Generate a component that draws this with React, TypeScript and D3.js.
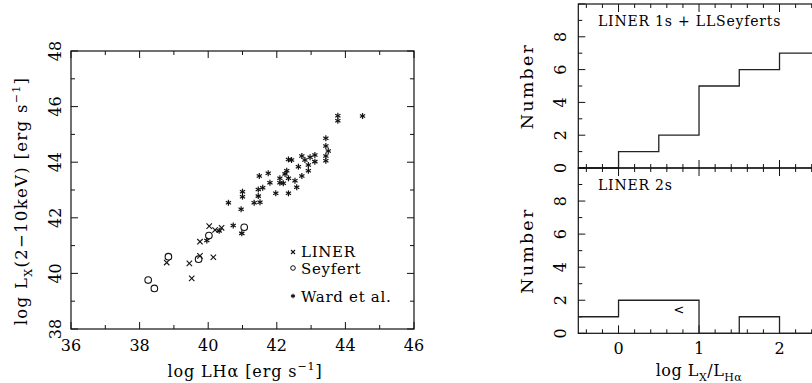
import React from "react";
import * as d3 from "d3";

const linerX = [38.79, 39.45, 39.52, 39.76, 40.15, 39.76, 40.03, 40.2, 40.39];
const linerY = [40.39, 40.36, 39.82, 40.63, 40.58, 41.14, 41.7, 41.56, 41.64];

const seyfertX = [38.25, 38.43, 38.84, 39.72, 40.02, 41.05];
const seyfertY = [39.76, 39.46, 40.6, 40.51, 41.36, 41.66];

const wardX = [43.78, 43.78, 44.5, 43.43, 43.43, 43.5, 43.43, 43.43, 43.11, 42.97, 43.11, 42.92, 42.73, 42.82, 42.63, 42.92, 42.73, 42.58, 42.53, 42.34, 42.43, 42.29, 42.24, 42.34, 42.19, 42.09, 42.09, 42.34, 41.97, 41.8, 41.75, 41.49, 41.59, 41.46, 41.46, 41.51, 41.34, 41.0, 41.0, 40.96, 40.59, 40.73, 40.32, 39.96, 40.98];
const wardY = [45.67, 45.49, 45.66, 44.86, 44.58, 44.4, 44.22, 44.05, 44.26, 44.18, 44.02, 43.9, 44.22, 44.08, 43.84, 43.69, 43.5, 43.1, 43.33, 44.1, 44.08, 43.69, 43.58, 43.42, 43.24, 43.42, 43.26, 42.88, 42.88, 43.26, 43.6, 43.5, 43.08, 43.02, 42.78, 42.56, 42.54, 42.94, 42.76, 42.31, 42.54, 41.72, 41.53, 41.18, 41.44];

const scatterXTicks = [36, 38, 40, 42, 44, 46];
const scatterYTicks = [38, 40, 42, 44, 46, 48];

const binEdges = [-0.5, 0, 0.5, 1, 1.5, 2, 2.5];
const topCounts = [0, 1, 2, 5, 6, 7];
const bottomCounts = [1, 2, 2, 0, 1, 0];
const histXTicks = [0, 1, 2];
const histYTicks = [0, 2, 4, 6, 8];
const upperLimitX = [0.75];
const upperLimitY = [1.45];

const FONT = "DejaVu Serif";
const ST = "#111";

function ticksMinor(lo: number, hi: number, step: number) {
  const out: number[] = [];
  const n = Math.round((hi - lo) / step);
  for (let i = 0; i <= n; i++) out.push(+(lo + i * step).toFixed(6));
  return out;
}

function Scatter() {
  const x = d3.scaleLinear().domain([36, 46]).range([71, 414]);
  const y = d3.scaleLinear().domain([38, 48]).range([329, 51]);
  const [x0, x1] = x.range();
  const [y0, y1] = y.range();
  const minorX = ticksMinor(36, 46, 1);
  const minorY = ticksMinor(38, 48, 1);
  const isMajorX = (v: number) => Math.abs(v % 2) < 1e-6;
  const star = (cx: number, cy: number, r: number, k: string) => (
    <g key={k} stroke={ST} strokeWidth={1.2}>
      <line x1={cx} y1={cy - r} x2={cx} y2={cy + r} />
      <line x1={cx - r * 0.87} y1={cy - r * 0.5} x2={cx + r * 0.87} y2={cy + r * 0.5} />
      <line x1={cx - r * 0.87} y1={cy + r * 0.5} x2={cx + r * 0.87} y2={cy - r * 0.5} />
    </g>
  );
  const cross = (cx: number, cy: number, r: number, k: string) => (
    <g key={k} stroke={ST} strokeWidth={1.1}>
      <line x1={cx - r} y1={cy - r} x2={cx + r} y2={cy + r} />
      <line x1={cx - r} y1={cy + r} x2={cx + r} y2={cy - r} />
    </g>
  );
  return (
    <g>
      <rect x={x0} y={y1} width={x1 - x0} height={y0 - y1} fill="none" stroke={ST} strokeWidth={1.2} />
      {minorX.map((v) => {
        const L = isMajorX(v) ? 7 : 4;
        return (
          <g key={"tx" + v} stroke={ST} strokeWidth={1}>
            <line x1={x(v)} x2={x(v)} y1={y0} y2={y0 - L} />
            <line x1={x(v)} x2={x(v)} y1={y1} y2={y1 + L} />
          </g>
        );
      })}
      {minorY.map((v) => {
        const L = Math.abs(v % 2) < 1e-6 ? 7 : 4;
        return (
          <g key={"ty" + v} stroke={ST} strokeWidth={1}>
            <line x1={x0} x2={x0 + L} y1={y(v)} y2={y(v)} />
            <line x1={x1} x2={x1 - L} y1={y(v)} y2={y(v)} />
          </g>
        );
      })}
      {scatterXTicks.map((v) => (
        <text key={"lx" + v} x={x(v)} y={351} textAnchor="middle" fontFamily={FONT} fontSize={16}>
          {v}
        </text>
      ))}
      {scatterYTicks.map((v) => (
        <text key={"ly" + v} transform={`translate(61,${y(v)}) rotate(-90)`} textAnchor="middle" fontFamily={FONT} fontSize={16}>
          {v}
        </text>
      ))}
      <text x={245} y={377} textAnchor="middle" fontFamily={FONT} fontSize={16} letterSpacing={0.9}>
        log LHα [erg s
        <tspan dy={-7} fontSize={11}>−1</tspan>
        <tspan dy={7}>]</tspan>
      </text>
      <text transform="translate(27,201) rotate(-90)" textAnchor="middle" fontFamily={FONT} fontSize={16.5} letterSpacing={1.3}>
        log L
        <tspan dy={5} fontSize={11}>X</tspan>
        <tspan dy={-5}>(2−10keV) [erg s</tspan>
        <tspan dy={-7} fontSize={11}>−1</tspan>
        <tspan dy={7}>]</tspan>
      </text>
      {seyfertX.map((v, i) => (
        <circle key={"s" + i} cx={x(v)} cy={y(seyfertY[i])} r={3.3} fill="none" stroke={ST} strokeWidth={1.1} />
      ))}
      {linerX.map((v, i) => cross(x(v), y(linerY[i]), 2.7, "l" + i))}
      {wardX.map((v, i) => star(x(v), y(wardY[i]), 3, "w" + i))}
      {cross(293, 252, 2, "legl")}
      <circle cx={293} cy={268} r={2.3} fill="none" stroke={ST} strokeWidth={1} />
      {star(293, 296, 2.2, "legw")}
      <text x={301} y={257} fontFamily={FONT} fontSize={15} letterSpacing={0.7}>LINER</text>
      <text x={301} y={273.5} fontFamily={FONT} fontSize={15} letterSpacing={0.7}>Seyfert</text>
      <text x={301} y={301.5} fontFamily={FONT} fontSize={15} letterSpacing={0.7}>Ward et al.</text>
    </g>
  );
}

function HistPanel({ counts, top, bottom, label, showX, limit }: { counts: number[]; top: number; bottom: number; label: string; showX: boolean; limit: boolean }) {
  const x = d3.scaleLinear().domain([-0.5, 3]).range([578.3, 860]);
  const y = d3.scaleLinear().domain([0, 10]).range([bottom, top]);
  const [x0, x1] = x.range();
  const minorX = ticksMinor(-0.4, 3, 0.2);
  const minorY = ticksMinor(0, 10, 1);
  const pts: [number, number][] = [];
  counts.forEach((c, i) => {
    pts.push([binEdges[i], c]);
    pts.push([binEdges[i + 1], c]);
  });
  const line = d3
    .line<[number, number]>()
    .x((d) => x(d[0]))
    .y((d) => y(d[1]));
  return (
    <g>
      <rect x={x0} y={top} width={x1 - x0} height={bottom - top} fill="none" stroke={ST} strokeWidth={1.2} />
      {minorX.map((v) => {
        const maj = Math.abs(v - Math.round(v)) < 1e-6;
        const L = maj ? 8 : 4;
        return (
          <g key={"hx" + v} stroke={ST} strokeWidth={1}>
            <line x1={x(v)} x2={x(v)} y1={bottom} y2={bottom - L} />
            <line x1={x(v)} x2={x(v)} y1={top} y2={top + L} />
          </g>
        );
      })}
      {minorY.map((v) => {
        const L = v % 2 === 0 ? 7 : 4;
        return (
          <g key={"hy" + v} stroke={ST} strokeWidth={1}>
            <line x1={x0} x2={x0 + L} y1={y(v)} y2={y(v)} />
          </g>
        );
      })}
      {histYTicks.map((v) => (
        <text key={"hly" + v} transform={`translate(566,${y(v)}) rotate(-90)`} textAnchor="middle" fontFamily={FONT} fontSize={16}>
          {v}
        </text>
      ))}
      <text transform={`translate(533,${(top + bottom) / 2}) rotate(-90)`} textAnchor="middle" fontFamily={FONT} fontSize={17.5} letterSpacing={2.2}>
        Number
      </text>
      <text x={598} y={top + 22} fontFamily={FONT} fontSize={14} letterSpacing={0.8}>
        {label}
      </text>
      <path d={line(pts) || ""} fill="none" stroke="#222" strokeWidth={1.3} />
      {limit &&
        upperLimitX.map((v, i) => (
          <text key={"ul" + i} x={x(v)} y={y(upperLimitY[i]) + 4.5} textAnchor="middle" fontFamily={FONT} fontSize={13}>
            {"<"}
          </text>
        ))}
      {showX &&
        histXTicks.map((v) => (
          <text key={"hlx" + v} x={x(v)} y={354} textAnchor="middle" fontFamily={FONT} fontSize={16}>
            {v}
          </text>
        ))}
      {showX && (
        <text x={x(1)} y={376} textAnchor="middle" fontFamily={FONT} fontSize={16} letterSpacing={0.5}>
          log L
          <tspan dy={5} fontSize={11}>X</tspan>
          <tspan dy={-5}>/L</tspan>
          <tspan dy={5} fontSize={11}>Hα</tspan>
        </text>
      )}
    </g>
  );
}

export default function App() {
  return (
    <svg width={812} height={383} style={{ position: "absolute", left: 0, top: 0, background: "#fff" }}>
      <rect width={812} height={383} fill="#fff" />
      <Scatter />
      <HistPanel counts={topCounts} top={4} bottom={168} label="LINER 1s + LLSeyferts" showX={false} limit={false} />
      <HistPanel counts={bottomCounts} top={168} bottom={333.3} label="LINER 2s" showX={true} limit={true} />
    </svg>
  );
}
